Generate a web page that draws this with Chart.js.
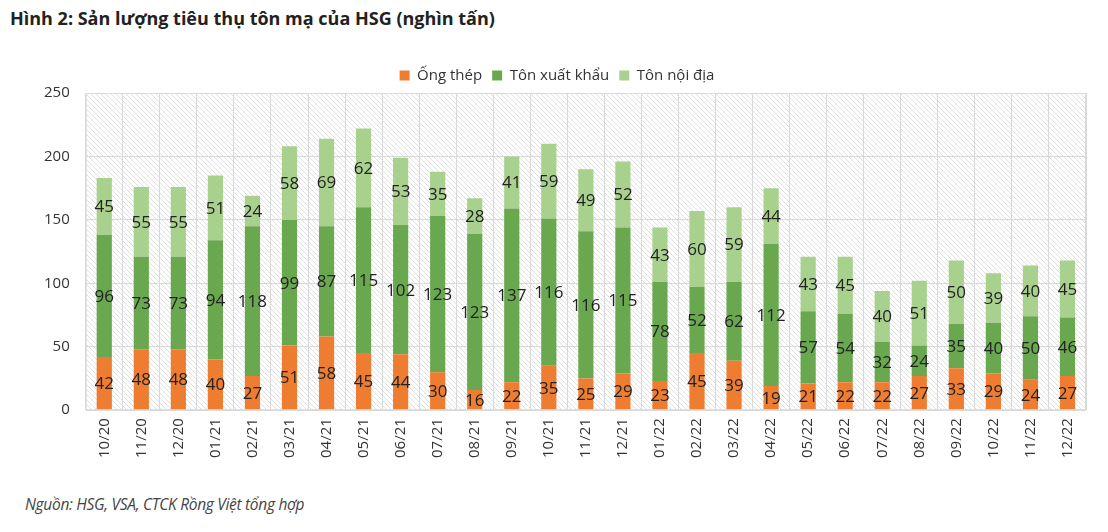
<!DOCTYPE html>
<html lang="vi">
<head>
<meta charset="utf-8">
<title>Sản lượng tiêu thụ tôn mạ của HSG</title>
<script src="https://cdn.jsdelivr.net/npm/chart.js@4.4.1/dist/chart.umd.min.js"></script>
<style>
  html, body { margin: 0; padding: 0; background: #fff; }
  body { width: 1108px; height: 532px; position: relative; overflow: hidden; font-family: "Open Sans", sans-serif; }
  .tieu-de { position: absolute; left: 10px; top: 6px; font-size: 18px; font-weight: bold; color: #222; }
  .nguon { position: absolute; left: 25px; top: 493px; font-size: 15.5px; font-style: italic; color: #444; letter-spacing: -0.3px; }
  .khung { position: absolute; left: 0; top: 58px; width: 1108px; height: 418px; }
</style>
</head>
<body>
<div class="tieu-de">Hình 2: Sản lượng tiêu thụ tôn mạ của HSG (nghìn tấn)</div>
<div class="khung"><canvas id="chart-hsg"></canvas></div>
<div class="nguon">Nguồn: HSG, VSA, CTCK Rồng Việt tổng hợp</div>

<script>
/* ---------- dữ liệu ---------- */
const thang = ["10/20", "11/20", "12/20", "01/21", "02/21", "03/21", "04/21", "05/21", "06/21", "07/21",
  "08/21", "09/21", "10/21", "11/21", "12/21", "01/22", "02/22", "03/22", "04/22", "05/22",
  "06/22", "07/22", "08/22", "09/22", "10/22", "11/22", "12/22"];

const ongThep = [42, 48, 48, 40, 27, 51, 58, 45, 44, 30, 16, 22, 35, 25, 29, 23, 45, 39, 19, 21, 22, 22, 27, 33, 29, 24, 27];
const tonXuatKhau = [96, 73, 73, 94, 118, 99, 87, 115, 102, 123, 123, 137, 116, 116, 115, 78, 52, 62, 112, 57, 54, 32, 24, 35, 40, 50, 46];
const tonNoiDia = [45, 55, 55, 51, 24, 58, 69, 62, 53, 35, 28, 41, 59, 49, 52, 43, 60, 59, 44, 43, 45, 40, 51, 50, 39, 40, 45];

const COLORS = {
  cam: "#EE7D31",
  xanhDam: "#6AA84F",
  xanhNhat: "#A9D18E",
  chu: "#222222",
  luoi: "#D9D9D9",
  gach: "#E0E0E0",
};

const FONT = "'Open Sans', sans-serif";
Chart.defaults.font.family = FONT;
Chart.defaults.color = "#333";

/* ---------- nền gạch chéo cho vùng vẽ ---------- */
function taoMauGach() {
  const c = document.createElement("canvas");
  c.width = 5;
  c.height = 5;
  const g = c.getContext("2d");
  g.fillStyle = "#fff";
  g.fillRect(0, 0, 5, 5);
  g.strokeStyle = COLORS.gach;
  g.lineWidth = 1;
  g.beginPath();
  g.moveTo(0, 0); g.lineTo(5, 5);
  g.moveTo(-1, 4); g.lineTo(1, 6);
  g.moveTo(4, -1); g.lineTo(6, 1);
  g.stroke();
  return g.createPattern(c, "repeat");
}

const nenGach = {
  id: "nenGach",
  beforeDraw(chart) {
    const { ctx, chartArea: a } = chart;
    ctx.save();
    ctx.fillStyle = taoMauGach();
    ctx.fillRect(a.left, a.top, a.right - a.left, a.bottom - a.top);
    ctx.restore();
  },
  afterDraw(chart) {
    const { ctx, chartArea: a } = chart;
    ctx.save();
    ctx.strokeStyle = COLORS.luoi;
    ctx.lineWidth = 1;
    ctx.strokeRect(a.left + 0.5, a.top + 0.5, a.right - a.left - 1, a.bottom - a.top - 1);
    ctx.restore();
  },
};

/* ---------- nhãn số giữa mỗi đoạn cột ---------- */
const nhanSo = {
  id: "nhanSo",
  afterDatasetsDraw(chart) {
    const { ctx } = chart;
    ctx.save();
    ctx.font = `17px ${FONT}`;
    ctx.fillStyle = COLORS.chu;
    ctx.textAlign = "center";
    ctx.textBaseline = "middle";
    chart.data.datasets.forEach((ds, i) => {
      chart.getDatasetMeta(i).data.forEach((bar, j) => {
        const y = (bar.y + bar.base) / 2;
        ctx.fillText(ds.data[j], bar.x, y + 1);
      });
    });
    ctx.restore();
  },
};

new Chart(document.getElementById("chart-hsg"), {
  type: "bar",
  data: {
    labels: thang,
    datasets: [
      { label: "Ống thép", data: ongThep, backgroundColor: COLORS.cam },
      { label: "Tôn xuất khẩu", data: tonXuatKhau, backgroundColor: COLORS.xanhDam },
      { label: "Tôn nội địa", data: tonNoiDia, backgroundColor: COLORS.xanhNhat },
    ],
  },
  options: {
    responsive: true,
    maintainAspectRatio: false,
    animation: false,
    barPercentage: 0.41,
    categoryPercentage: 1,
    layout: { padding: { left: 28, right: 22, top: 0, bottom: 10 } },
    plugins: {
      legend: {
        position: "top",
        labels: { boxWidth: 10, boxHeight: 10, padding: 10, font: { size: 15 }, color: "#333" },
      },
      tooltip: { enabled: false },
    },
    scales: {
      x: {
        stacked: true,
        grid: { color: COLORS.luoi, offset: true, drawTicks: false },
        border: { display: false },
        ticks: { minRotation: 90, maxRotation: 90, padding: 8, font: { size: 15 }, color: "#333" },
      },
      y: {
        stacked: true,
        min: 0,
        max: 250,
        grid: { color: COLORS.luoi, drawTicks: false },
        border: { display: false },
        ticks: { stepSize: 50, padding: 16, font: { size: 15 }, color: "#333" },
      },
    },
  },
  plugins: [nenGach, nhanSo],
});
</script>
</body>
</html>
